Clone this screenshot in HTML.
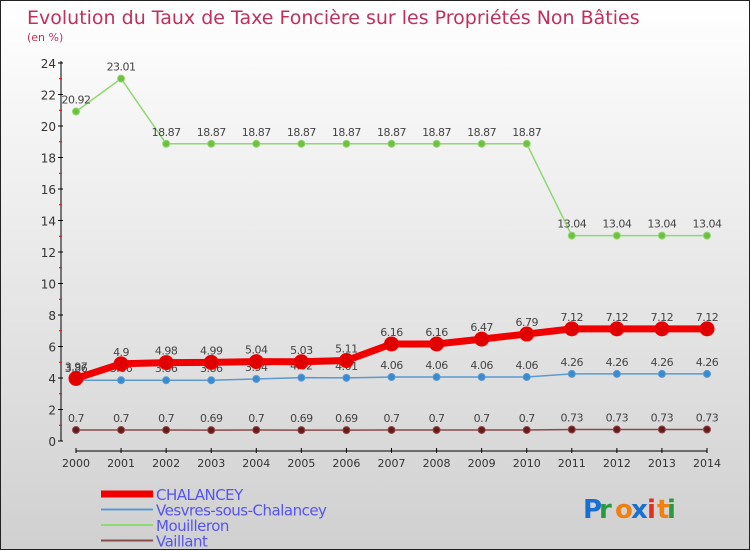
<!DOCTYPE html>
<html><head><meta charset="utf-8"><style>
body{margin:0;width:750px;height:550px;overflow:hidden;font-family:"DejaVu Sans","Liberation Sans",sans-serif;}
#wrap{position:relative;width:748px;height:548px;border:1px solid #222;background:linear-gradient(#ffffff,#d0d0d0);}
svg{position:absolute;left:0;top:0}
</style></head><body>
<div id="wrap">
<svg id="c" width="750" height="550">
<text x="26" y="23" font-size="19" fill="#c0305a">Evolution du Taux de Taxe Foncière sur les Propriétés Non Bâties</text>
<text x="26" y="40" font-size="11" fill="#c0305a">(en %)</text>
</svg>
</div>
<script>
const years=[2000,2001,2002,2003,2004,2005,2006,2007,2008,2009,2010,2011,2012,2013,2014];
const chalancey=[3.97,4.9,4.98,4.99,5.04,5.03,5.11,6.16,6.16,6.47,6.79,7.12,7.12,7.12,7.12];
const vesvres=[3.86,3.86,3.86,3.86,3.94,4.02,4.01,4.06,4.06,4.06,4.06,4.26,4.26,4.26,4.26];
const mouilleron=[20.92,23.01,18.87,18.87,18.87,18.87,18.87,18.87,18.87,18.87,18.87,13.04,13.04,13.04,13.04];
const vaillant=[0.7,0.7,0.7,0.69,0.7,0.69,0.69,0.7,0.7,0.7,0.7,0.73,0.73,0.73,0.73];
const yTicks=[0,2,4,6,8,10,12,14,16,18,20,22,24];
const svg=document.getElementById('c');const NS='http://www.w3.org/2000/svg';
const X=i=>75+i*(706-75)/(years.length-1);
const Y=v=>440-v*(440-62)/24;
function el(t,a,p){const e=document.createElementNS(NS,t);for(const k in a)e.setAttribute(k,a[k]);(p||svg).appendChild(e);return e;}
// axes
let ax=el('g',{});


el('line',{x1:60,y1:60,x2:60,y2:440,stroke:'#000','stroke-width':1},ax);
yTicks.forEach(v=>{el('line',{x1:57,y1:Y(v),x2:62,y2:Y(v),stroke:'#000'},ax);
 el('line',{x1:58,y1:Y(v+1),x2:61,y2:Y(v+1),stroke:v<24?'#e00':'none'},ax);
 const t=el('text',{x:55,y:Y(v)+5,'font-size':12,'text-anchor':'end',fill:'#333'},ax);t.textContent=v;});
let xa=el('g',{});


el('line',{x1:75,y1:450,x2:706,y2:450,stroke:'#000'},xa);
years.forEach((y,i)=>{el('line',{x1:X(i),y1:447,x2:X(i),y2:452,stroke:'#000'},xa);
 const t=el('text',{x:X(i),y:466,'font-size':11,'text-anchor':'middle',fill:'#333'},xa);t.textContent=y;});
function series(name,vals,color,w,r,dot){
 const g=el('g',{});
 
 
 el('polyline',{points:vals.map((v,i)=>X(i)+','+Y(v)).join(' '),fill:'none',stroke:color,'stroke-width':w,'stroke-linejoin':'round'},g);
 vals.forEach((v,i)=>{const c=el('circle',{cx:X(i),cy:Y(v),r:r,fill:dot,stroke:color,'stroke-width':1},g);
  
  
  const t=el('text',{x:X(i),y:Y(v)-8,'font-size':11,'text-anchor':'middle',fill:'#444','letter-spacing':'-0.5'},g);t.textContent=v;});
}
series('mouilleron',mouilleron,'#90d870',1.5,3.5,'#70c040');
series('vaillant',vaillant,'#8b4a4a',1.5,3.5,'#6a1a1a');
series('vesvres',vesvres,'#5a9ad0',1.5,3.5,'#3a8ad0');
series('chalancey',chalancey,'#f00000',7,7,'#e00000');
// legend
const leg=[['CHALANCEY','#f00000',7],['Vesvres-sous-Chalancey','#5a9ad0',2],['Mouilleron','#90d870',2],['Vaillant','#8b4a4a',2]];
leg.forEach((l,i)=>{const g=el('g',{});
 
 
 const y=493+i*15.5;
 el('line',{x1:100,y1:y,x2:152,y2:y,stroke:l[1],'stroke-width':l[2]},g);
 const t=el('text',{x:155,y:y+6,'font-size':15,fill:'#5555ee','letter-spacing':'-0.5'},g);t.textContent=l[0];});
// logo
const lg=el('g',{});


const letters=[['P','#1a70d0'],['r','#2a9a40'],['o','#f08010'],['x','#1a70d0'],['i','#e03020'],['t','#f08010'],['i','#2a9a40']];
let lx=582;letters.forEach(l=>{const t=el('text',{x:lx,y:517,'font-size':26,'font-weight':'bold',fill:l[1]},lg);t.textContent=l[0];lx+=l[0]=='i'||l[0]=='t'?10:16;});
</script>
</body></html>
